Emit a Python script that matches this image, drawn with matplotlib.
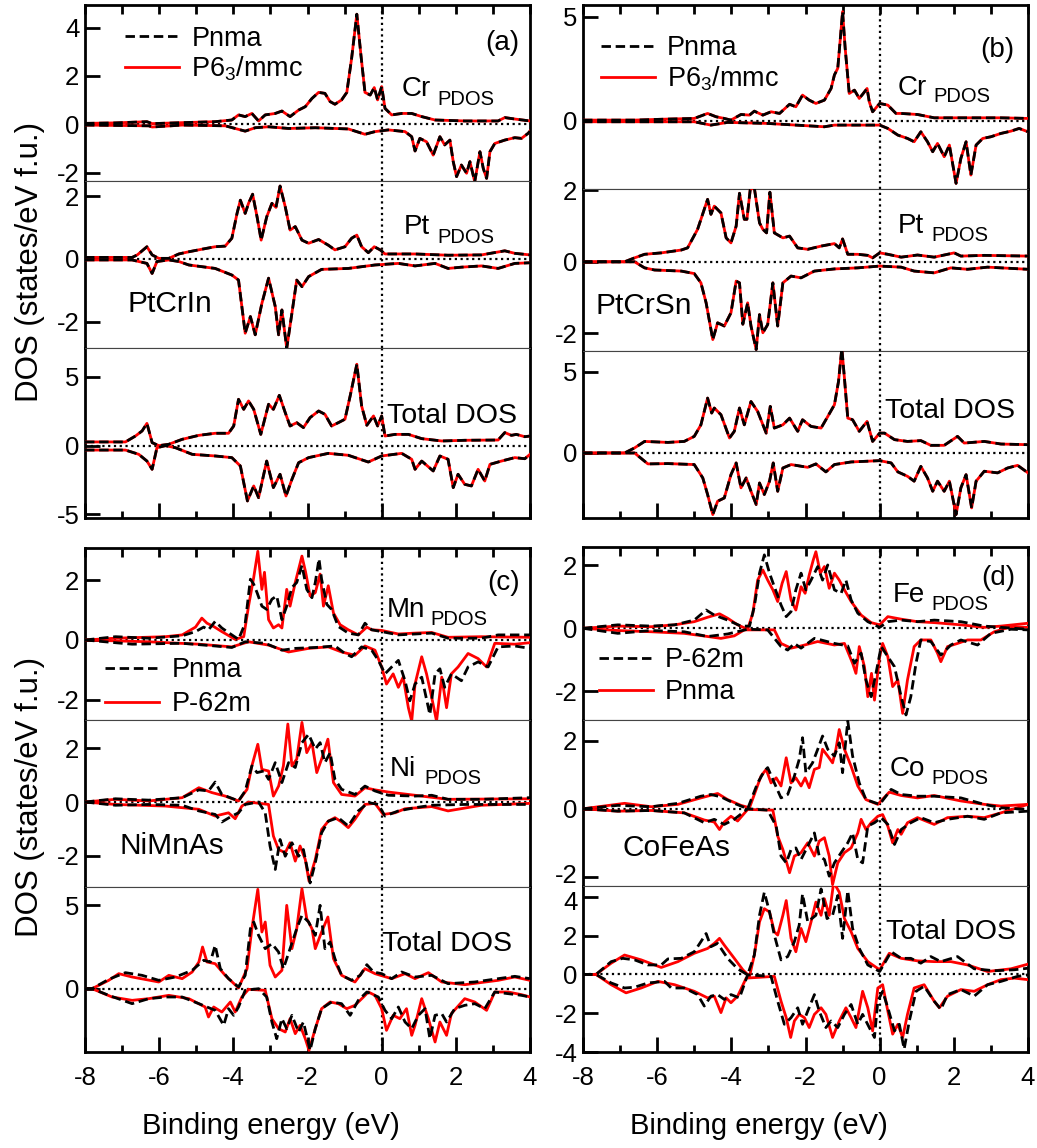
import numpy as np
import matplotlib
matplotlib.use("Agg")
import matplotlib.pyplot as plt
from matplotlib.lines import Line2D
from matplotlib.ticker import MultipleLocator
from matplotlib.transforms import ScaledTranslation

plt.rcParams["font.family"] = ["Liberation Sans", "DejaVu Sans"]
plt.rcParams["axes.unicode_minus"] = False
plt.rcParams["mathtext.fontset"] = "custom"
plt.rcParams["mathtext.rm"] = "Liberation Sans"
plt.rcParams["mathtext.it"] = "Liberation Sans"

# ---------------------------------------------------------------------------
# Spin-resolved DOS, (energy eV, states/eV f.u.).  Spin-down values negative.
# ---------------------------------------------------------------------------

# (a) PtCrIn : Pnma and P6_3/mmc curves coincide
A_CR_UP = [(-8.0, 0.04), (-7.18, 0.06), (-6.33, 0.11), (-6.19, 0.03), (-5.38, 0.07), (-4.49, 0.11),
           (-4.04, 0.18), (-3.86, 0.39), (-3.68, 0.32), (-3.50, 0.45), (-3.32, 0.14), (-3.14, 0.39),
           (-2.87, 0.45), (-2.69, 0.55), (-2.47, 0.32), (-2.24, 0.59), (-2.06, 0.73), (-1.88, 1.07),
           (-1.70, 1.32), (-1.53, 1.28), (-1.39, 0.94), (-1.26, 0.83), (-1.08, 1.01), (-0.94, 1.32),
           (-0.81, 2.73), (-0.67, 4.55), (-0.56, 2.87), (-0.45, 1.32), (-0.31, 1.21), (-0.20, 1.52),
           (-0.11, 1.01), (0.00, 1.56), (0.09, 0.66), (0.27, 0.39), (0.54, 0.45), (0.81, 0.45),
           (1.08, 0.32), (1.44, 0.18), (2.24, 0.14), (3.14, 0.14), (3.32, 0.28), (3.59, 0.22), (4.0, 0.14)]
A_CR_DN = [(-8.0, -0.03), (-6.28, -0.06), (-6.19, -0.11), (-5.38, -0.03), (-4.22, -0.06), (-3.68, -0.28),
           (-3.41, -0.14), (-3.05, -0.10), (-2.51, -0.17), (-1.79, -0.14), (-0.90, -0.19), (-0.45, -0.41),
           (-0.18, -0.30), (0.18, -0.23), (0.63, -0.30), (0.81, -0.51), (0.90, -1.10), (1.03, -0.58),
           (1.21, -0.72), (1.39, -1.27), (1.57, -0.51), (1.70, -0.85), (1.84, -0.65), (1.93, -1.54),
           (2.02, -2.16), (2.15, -1.68), (2.29, -2.02), (2.38, -1.54), (2.51, -2.37), (2.65, -1.13),
           (2.74, -1.82), (2.83, -2.23), (2.92, -1.13), (3.05, -0.79), (3.32, -0.65), (3.59, -0.55),
           (3.77, -0.58), (3.95, -0.37), (4.0, -0.28)]
A_PT_UP = [(-8.0, 0.05), (-6.73, 0.05), (-6.59, 0.13), (-6.33, 0.39), (-6.19, 0.13), (-6.01, 0.02),
           (-5.74, 0.02), (-5.47, 0.16), (-5.20, 0.23), (-4.85, 0.31), (-4.49, 0.39), (-4.22, 0.41),
           (-4.04, 0.66), (-3.90, 1.45), (-3.81, 1.87), (-3.68, 1.45), (-3.59, 1.77), (-3.48, 2.06),
           (-3.36, 1.34), (-3.25, 0.60), (-3.10, 1.34), (-2.96, 1.77), (-2.85, 1.64), (-2.74, 2.32),
           (-2.60, 1.66), (-2.47, 0.92), (-2.33, 1.03), (-2.15, 0.60), (-1.97, 0.50), (-1.70, 0.62),
           (-1.44, 0.44), (-1.26, 0.29), (-0.99, 0.39), (-0.81, 0.66), (-0.67, 0.76), (-0.54, 0.39),
           (-0.36, 0.20), (-0.20, 0.39), (-0.04, 0.29), (0.09, 0.16), (0.90, 0.16), (1.79, 0.12),
           (2.69, 0.13), (3.32, 0.26), (3.59, 0.18), (4.0, 0.13)]
A_PT_DN = [(-8.0, -0.03), (-6.73, -0.03), (-6.55, -0.08), (-6.33, -0.14), (-6.19, -0.46), (-6.06, -0.08),
           (-5.74, -0.03), (-5.47, -0.08), (-5.20, -0.19), (-4.49, -0.30), (-4.04, -0.51), (-3.86, -0.67),
           (-3.68, -2.36), (-3.54, -1.83), (-3.41, -2.41), (-3.23, -1.41), (-3.05, -0.61), (-2.87, -1.51),
           (-2.78, -2.41), (-2.69, -1.62), (-2.56, -2.84), (-2.42, -1.72), (-2.29, -0.67), (-2.15, -0.88),
           (-1.97, -0.56), (-1.62, -0.33), (-0.90, -0.30), (-0.18, -0.19), (0.45, -0.14), (0.90, -0.22),
           (1.44, -0.14), (1.79, -0.30), (2.15, -0.26), (2.69, -0.22), (3.14, -0.30), (3.59, -0.14),
           (4.0, -0.12)]
A_TOT_UP = [(-8.0, 0.27), (-6.91, 0.27), (-6.64, 0.70), (-6.46, 1.07), (-6.33, 1.62), (-6.19, 0.22),
            (-6.01, 0.0), (-5.74, 0.10), (-5.38, 0.46), (-4.93, 0.75), (-4.49, 0.90), (-4.13, 0.90),
            (-3.99, 1.43), (-3.86, 3.37), (-3.72, 2.64), (-3.59, 3.25), (-3.45, 2.64), (-3.26, 0.82),
            (-3.05, 3.01), (-2.92, 2.64), (-2.76, 3.66), (-2.60, 2.40), (-2.47, 1.43), (-2.29, 1.67),
            (-2.11, 1.31), (-1.93, 2.04), (-1.70, 2.52), (-1.53, 2.28), (-1.35, 1.43), (-1.17, 1.67),
            (-0.99, 1.92), (-0.85, 3.61), (-0.67, 5.92), (-0.54, 2.88), (-0.40, 1.48), (-0.22, 2.16),
            (-0.11, 1.43), (0.00, 2.16), (0.09, 0.70), (0.36, 0.82), (0.72, 0.82), (1.08, 0.51),
            (1.62, 0.34), (2.24, 0.39), (3.14, 0.41), (3.32, 0.95), (3.50, 0.75), (3.63, 0.82),
            (3.86, 0.65), (4.0, 0.70)]
A_TOT_DN = [(-8.0, -0.32), (-6.91, -0.32), (-6.55, -0.63), (-6.33, -1.12), (-6.19, -1.72), (-6.06, -0.15),
            (-5.83, 0.0), (-5.56, -0.15), (-5.11, -0.63), (-4.49, -0.75), (-4.04, -0.87), (-3.81, -1.48),
            (-3.62, -4.02), (-3.45, -2.93), (-3.32, -3.78), (-3.10, -1.12), (-2.92, -3.05), (-2.74, -2.08),
            (-2.58, -3.66), (-2.42, -2.45), (-2.24, -1.24), (-1.97, -0.87), (-1.44, -0.56), (-0.90, -0.70),
            (-0.36, -1.19), (0.00, -0.75), (0.54, -0.56), (0.81, -0.99), (0.90, -1.72), (1.08, -1.12),
            (1.39, -1.84), (1.57, -0.75), (1.79, -0.99), (1.93, -3.05), (2.06, -2.08), (2.24, -2.81),
            (2.42, -2.93), (2.60, -1.72), (2.78, -2.57), (2.92, -1.36), (3.23, -1.12), (3.59, -0.87),
            (3.86, -0.95), (4.0, -0.63)]

# (b) PtCrSn : Pnma and P6_3/mmc curves coincide
B_CR_UP = [(-8.0, 0.03), (-6.61, 0.03), (-5.71, 0.08), (-5.00, 0.11), (-4.64, 0.35), (-4.41, 0.19),
           (-4.19, 0.11), (-4.01, 0.03), (-3.74, 0.30), (-3.51, 0.27), (-3.38, 0.46), (-3.15, 0.27),
           (-2.93, 0.43), (-2.70, 0.35), (-2.43, 0.79), (-2.26, 0.67), (-2.08, 1.23), (-1.90, 0.99),
           (-1.72, 0.83), (-1.49, 0.99), (-1.31, 1.55), (-1.22, 2.20), (-1.13, 2.52), (-1.06, 3.96),
           (-1.00, 5.24), (-0.93, 3.48), (-0.82, 1.31), (-0.68, 1.47), (-0.55, 1.07), (-0.46, 1.27),
           (-0.34, 1.55), (-0.28, 0.91), (-0.19, 0.43), (0.00, 0.83), (0.22, 0.75), (0.44, 0.35),
           (0.58, 0.35), (1.02, 0.30), (1.47, 0.14), (2.37, 0.14), (3.27, 0.14), (4.0, 0.11)]
B_CR_DN = [(-8.0, -0.05), (-5.00, -0.05), (-4.55, -0.21), (-4.10, -0.08), (-3.02, -0.13), (-1.49, -0.29),
           (-1.22, -0.21), (0.00, -0.21), (0.22, -0.37), (0.49, -0.69), (0.75, -0.85), (0.93, -1.01),
           (1.11, -0.53), (1.29, -1.01), (1.43, -1.49), (1.56, -1.09), (1.74, -1.73), (1.88, -1.17),
           (2.06, -3.01), (2.19, -1.81), (2.33, -1.01), (2.46, -2.61), (2.60, -1.17), (2.78, -0.85),
           (3.00, -0.77), (3.27, -0.61), (3.54, -0.50), (3.76, -0.37), (4.0, -0.53)]
B_PT_UP = [(-8.0, 0.0), (-6.88, 0.0), (-6.61, 0.11), (-6.34, 0.21), (-5.89, 0.25), (-5.35, 0.33),
           (-5.18, 0.39), (-4.91, 0.91), (-4.64, 1.75), (-4.55, 1.33), (-4.46, 1.56), (-4.28, 1.37),
           (-4.14, 0.67), (-4.01, 0.53), (-3.87, 1.00), (-3.78, 1.92), (-3.65, 1.19), (-3.58, 1.19),
           (-3.49, 2.03), (-3.38, 2.07), (-3.24, 1.09), (-3.15, 0.91), (-3.05, 0.81), (-2.96, 1.95),
           (-2.84, 0.81), (-2.61, 0.67), (-2.43, 0.72), (-2.21, 0.39), (-1.94, 0.35), (-1.58, 0.44),
           (-1.22, 0.51), (-1.09, 0.39), (-1.00, 0.64), (-0.86, 0.21), (-0.59, 0.21), (-0.32, 0.18),
           (-0.19, 0.11), (0.00, 0.25), (0.22, 0.21), (0.58, 0.13), (1.02, 0.19), (1.47, 0.13),
           (2.01, 0.25), (2.19, 0.16), (2.82, 0.18), (4.0, 0.16)]
B_PT_DN = [(-8.0, 0.0), (-6.61, 0.0), (-6.34, -0.17), (-6.07, -0.23), (-5.35, -0.26), (-5.00, -0.33),
           (-4.82, -0.59), (-4.68, -1.15), (-4.50, -2.18), (-4.37, -1.71), (-4.19, -1.80), (-4.01, -1.43),
           (-3.87, -0.54), (-3.78, -0.59), (-3.69, -1.75), (-3.56, -1.15), (-3.47, -1.80), (-3.33, -2.46),
           (-3.24, -1.48), (-3.15, -1.99), (-3.02, -1.76), (-2.88, -0.59), (-2.75, -1.80), (-2.61, -0.59),
           (-2.39, -0.40), (-2.12, -0.45), (-1.76, -0.26), (-1.22, -0.20), (-0.59, -0.17), (0.00, -0.12),
           (0.58, -0.15), (0.93, -0.26), (1.47, -0.31), (1.92, -0.17), (2.37, -0.21), (2.91, -0.15),
           (4.0, -0.21)]
B_TOT_UP = [(-8.0, 0.0), (-6.88, 0.0), (-6.61, 0.31), (-6.34, 0.71), (-5.71, 0.65), (-5.27, 0.71),
            (-5.00, 1.02), (-4.82, 1.73), (-4.64, 3.37), (-4.53, 2.45), (-4.46, 2.76), (-4.28, 2.35),
            (-4.05, 0.92), (-3.92, 1.33), (-3.78, 2.76), (-3.65, 1.73), (-3.47, 3.16), (-3.29, 2.55),
            (-3.06, 1.22), (-2.95, 2.86), (-2.84, 1.53), (-2.61, 1.73), (-2.43, 2.14), (-2.21, 1.33),
            (-2.08, 2.04), (-1.85, 1.63), (-1.58, 1.53), (-1.40, 2.24), (-1.22, 2.96), (-1.11, 4.39),
            (-1.02, 6.43), (-0.95, 4.59), (-0.86, 2.14), (-0.73, 2.04), (-0.55, 1.33), (-0.34, 1.94),
            (-0.19, 0.71), (0.00, 1.22), (0.13, 1.22), (0.40, 0.82), (0.75, 0.71), (1.11, 0.76),
            (1.38, 0.47), (1.74, 0.47), (2.10, 1.02), (2.28, 0.61), (2.82, 0.71), (3.27, 0.55),
            (4.0, 0.51)]
B_TOT_DN = [(-8.0, 0.0), (-6.61, 0.0), (-6.25, -0.67), (-5.71, -0.65), (-5.00, -0.71), (-4.77, -1.53),
            (-4.64, -2.55), (-4.50, -3.78), (-4.37, -2.96), (-4.19, -2.76), (-4.01, -1.33), (-3.87, -0.61),
            (-3.74, -2.14), (-3.60, -1.53), (-3.47, -2.35), (-3.33, -3.16), (-3.24, -1.84), (-3.11, -2.55),
            (-2.97, -1.73), (-2.87, -0.61), (-2.75, -2.35), (-2.61, -0.92), (-2.39, -0.71), (-1.94, -0.88),
            (-1.72, -0.67), (-1.45, -1.16), (-1.22, -0.71), (-0.77, -0.55), (0.00, -0.47), (0.31, -0.61),
            (0.49, -1.16), (0.75, -1.43), (0.93, -1.73), (1.11, -0.82), (1.29, -1.53), (1.43, -2.35),
            (1.56, -1.73), (1.74, -2.35), (1.88, -1.73), (2.06, -3.78), (2.19, -2.14), (2.33, -1.33),
            (2.48, -3.37), (2.60, -1.73), (2.82, -1.12), (3.18, -1.22), (3.45, -0.92), (3.72, -0.76),
            (4.0, -1.22)]

# (c) NiMnAs : Pnma (dashed) and P-62m (solid)
C_MN_UP_PNMA = [(-8.0, 0.0), (-7.18, 0.11), (-6.28, 0.06), (-5.38, 0.14), (-5.02, 0.28), (-4.80, 0.43),
                (-4.67, 0.34), (-4.49, 0.62), (-4.31, 0.40), (-4.04, 0.17), (-3.86, 0.02), (-3.68, 0.56),
                (-3.54, 2.03), (-3.45, 1.86), (-3.36, 1.58), (-3.23, 1.13), (-3.10, 1.02), (-2.96, 1.36),
                (-2.83, 1.47), (-2.69, 0.68), (-2.56, 1.13), (-2.42, 1.75), (-2.29, 1.92), (-2.15, 2.49),
                (-2.02, 1.69), (-1.88, 1.41), (-1.79, 1.92), (-1.69, 2.71), (-1.62, 2.03), (-1.48, 1.19),
                (-1.35, 1.02), (-1.17, 0.45), (-0.90, 0.23), (-0.63, 0.17), (-0.45, 0.56), (-0.27, 0.34),
                (0.00, 0.28), (0.45, 0.17), (0.90, 0.20), (1.35, 0.23), (1.79, 0.06), (2.69, 0.06),
                (3.14, 0.17), (4.0, 0.17)]
C_MN_UP_P62M = [(-8.0, 0.0), (-7.18, 0.06), (-5.83, 0.11), (-5.38, 0.17), (-5.02, 0.43), (-4.85, 0.73),
                (-4.71, 0.56), (-4.53, 0.45), (-4.31, 0.28), (-3.95, 0.02), (-3.72, 0.11), (-3.59, 1.13),
                (-3.45, 2.09), (-3.34, 2.96), (-3.23, 1.69), (-3.16, 2.26), (-3.05, 0.68), (-2.92, 0.40),
                (-2.78, 0.51), (-2.69, 0.40), (-2.56, 1.69), (-2.47, 1.13), (-2.33, 1.92), (-2.15, 2.80),
                (-2.05, 2.26), (-1.93, 1.47), (-1.79, 1.58), (-1.66, 2.20), (-1.57, 1.13), (-1.44, 1.81),
                (-1.30, 0.90), (-1.12, 0.51), (-0.90, 0.34), (-0.63, 0.17), (-0.40, 0.43), (-0.27, 0.34),
                (0.00, 0.32), (0.45, 0.20), (0.90, 0.23), (1.35, 0.25), (1.79, 0.09), (2.69, 0.11),
                (4.0, 0.09)]
C_MN_DN_PNMA = [(-8.0, 0.0), (-6.73, -0.14), (-5.38, -0.11), (-4.49, -0.20), (-4.04, -0.25), (-3.68, -0.06),
                (-3.14, -0.11), (-2.69, -0.34), (-2.33, -0.28), (-1.79, -0.25), (-1.26, -0.20), (-0.99, -0.45),
                (-0.81, -0.56), (-0.54, -0.23), (-0.27, -0.34), (-0.09, -0.68), (0.09, -1.13), (0.27, -0.90),
                (0.45, -0.68), (0.63, -1.36), (0.76, -2.03), (0.90, -1.47), (1.08, -1.24), (1.30, -2.49),
                (1.44, -1.13), (1.57, -0.96), (1.70, -1.58), (1.88, -1.13), (2.15, -1.36), (2.33, -0.90),
                (2.60, -0.73), (2.87, -0.90), (3.14, -0.23), (3.59, -0.20), (4.0, -0.28)]
C_MN_DN_P62M = [(-8.0, 0.0), (-6.28, -0.06), (-4.93, -0.14), (-4.04, -0.23), (-3.59, -0.06), (-3.05, -0.17),
                (-2.51, -0.40), (-1.97, -0.28), (-1.44, -0.23), (-1.08, -0.40), (-0.72, -0.51), (-0.45, -0.20),
                (-0.18, -0.34), (0.00, -0.90), (0.13, -1.47), (0.31, -1.13), (0.45, -1.58), (0.58, -1.24),
                (0.72, -2.26), (0.81, -2.71), (0.90, -1.47), (1.08, -0.56), (1.21, -1.13), (1.35, -1.92),
                (1.48, -2.71), (1.62, -1.24), (1.75, -2.26), (1.88, -1.13), (2.06, -0.90), (2.33, -0.45),
                (2.60, -0.62), (2.83, -0.90), (3.05, -0.11), (3.59, -0.14), (4.0, -0.09)]
C_NI_UP_PNMA = [(-8.0, 0.0), (-7.18, 0.12), (-6.28, 0.07), (-5.38, 0.16), (-4.93, 0.45), (-4.67, 0.41),
                (-4.49, 0.74), (-4.31, 0.28), (-3.86, 0.04), (-3.68, 0.41), (-3.50, 1.34), (-3.36, 1.09),
                (-3.18, 1.15), (-3.05, 0.84), (-2.87, 1.46), (-2.69, 0.72), (-2.51, 1.46), (-2.33, 1.28),
                (-2.15, 2.20), (-1.97, 2.51), (-1.79, 1.96), (-1.66, 2.20), (-1.53, 1.46), (-1.39, 1.83),
                (-1.26, 0.84), (-1.08, 0.47), (-0.72, 0.28), (-0.45, 0.59), (-0.18, 0.41), (0.18, 0.25),
                (0.90, 0.22), (1.35, 0.25), (1.79, 0.10), (2.69, 0.10), (4.0, 0.16)]
C_NI_UP_P62M = [(-8.0, 0.0), (-7.18, 0.10), (-6.28, 0.04), (-5.38, 0.16), (-4.93, 0.53), (-4.58, 0.35),
                (-4.22, 0.22), (-3.86, 0.04), (-3.63, 0.47), (-3.50, 1.34), (-3.34, 2.14), (-3.23, 1.21),
                (-3.05, 1.15), (-2.92, 0.22), (-2.78, 0.59), (-2.65, 1.34), (-2.53, 2.89), (-2.42, 1.34),
                (-2.29, 1.59), (-2.15, 2.95), (-2.02, 1.83), (-1.88, 2.20), (-1.75, 1.09), (-1.62, 1.59),
                (-1.45, 2.33), (-1.30, 0.72), (-1.08, 0.28), (-0.72, 0.22), (-0.45, 0.53), (-0.18, 0.45),
                (0.18, 0.37), (0.90, 0.25), (1.79, 0.10), (4.0, 0.12)]
C_NI_DN_PNMA = [(-8.0, 0.0), (-7.18, -0.12), (-6.28, -0.09), (-5.38, -0.12), (-4.93, -0.33), (-4.49, -0.46),
                (-4.31, -0.74), (-4.04, -0.52), (-3.86, -0.40), (-3.68, -0.09), (-3.32, 0.0), (-3.14, -0.40),
                (-3.01, -1.63), (-2.87, -2.50), (-2.74, -1.39), (-2.60, -2.01), (-2.42, -1.51), (-2.24, -2.01),
                (-2.11, -1.76), (-1.93, -3.00), (-1.79, -2.25), (-1.62, -1.14), (-1.44, -0.71), (-1.17, -0.58),
                (-0.90, -0.89), (-0.63, -0.33), (-0.36, -0.02), (-0.09, -0.09), (0.09, -0.52), (0.45, -0.33),
                (0.90, -0.21), (1.35, -0.12), (2.24, -0.09), (4.0, -0.09)]
C_NI_DN_P62M = [(-8.0, 0.0), (-7.18, -0.09), (-5.83, -0.15), (-4.93, -0.27), (-4.49, -0.52), (-4.13, -0.40),
                (-3.95, -0.62), (-3.77, -0.15), (-3.59, 0.0), (-3.05, -0.09), (-2.92, -1.26), (-2.78, -1.76),
                (-2.60, -1.88), (-2.47, -1.51), (-2.33, -2.19), (-2.20, -1.63), (-2.06, -2.13), (-1.96, -2.93),
                (-1.79, -2.13), (-1.62, -1.02), (-1.44, -0.71), (-1.26, -0.58), (-1.08, -0.74), (-0.90, -0.95),
                (-0.72, -0.64), (-0.45, -0.09), (-0.18, -0.05), (0.04, -0.46), (0.36, -0.40), (0.63, -0.25),
                (1.35, -0.17), (1.79, -0.33), (2.69, -0.12), (4.0, -0.05)]
C_TOT_UP_PNMA = [(-8.0, 0.0), (-7.81, 0.0), (-7.36, 0.56), (-6.91, 0.96), (-6.46, 0.80), (-6.01, 0.50),
                 (-5.56, 0.70), (-5.11, 1.10), (-4.80, 1.70), (-4.62, 1.60), (-4.49, 2.60), (-4.35, 1.20),
                 (-4.13, 0.60), (-3.86, 0.10), (-3.68, 0.80), (-3.54, 3.60), (-3.45, 4.00), (-3.32, 3.20),
                 (-3.14, 2.40), (-2.96, 2.70), (-2.78, 2.20), (-2.65, 1.20), (-2.47, 2.40), (-2.29, 3.60),
                 (-2.15, 4.40), (-1.97, 4.00), (-1.79, 3.20), (-1.66, 5.00), (-1.53, 2.40), (-1.39, 2.80),
                 (-1.26, 1.80), (-1.08, 0.80), (-0.81, 0.50), (-0.58, 0.80), (-0.40, 1.44), (-0.22, 1.00),
                 (0.00, 0.90), (0.27, 0.60), (0.54, 1.00), (0.90, 0.70), (1.35, 0.80), (1.79, 0.30),
                 (2.51, 0.40), (3.14, 0.60), (3.59, 0.74), (4.0, 0.60)]
C_TOT_UP_P62M = [(-8.0, 0.0), (-7.81, 0.0), (-7.36, 0.50), (-7.09, 0.90), (-6.73, 0.70), (-6.01, 0.40),
                 (-5.74, 0.80), (-5.38, 0.60), (-5.11, 1.00), (-4.93, 1.60), (-4.83, 2.50), (-4.71, 1.60),
                 (-4.49, 1.50), (-4.22, 0.80), (-3.86, 0.04), (-3.63, 1.20), (-3.50, 3.60), (-3.34, 5.96),
                 (-3.23, 3.40), (-3.14, 4.00), (-3.01, 1.40), (-2.87, 0.70), (-2.69, 1.10), (-2.56, 5.00),
                 (-2.42, 2.40), (-2.29, 3.60), (-2.15, 6.00), (-2.02, 4.20), (-1.88, 3.60), (-1.79, 2.40),
                 (-1.62, 3.40), (-1.45, 4.30), (-1.30, 1.80), (-1.08, 0.80), (-0.72, 0.40), (-0.45, 1.20),
                 (-0.18, 0.90), (0.27, 0.60), (0.63, 0.90), (0.90, 0.60), (1.26, 0.96), (1.62, 0.40),
                 (2.24, 0.24), (3.14, 0.50), (3.59, 0.70), (4.0, 0.50)]
C_TOT_DN_PNMA = [(-8.0, 0.0), (-7.81, 0.0), (-7.36, -0.40), (-6.73, -0.90), (-6.28, -0.60), (-5.83, -0.50),
                 (-5.38, -0.50), (-4.93, -0.90), (-4.49, -1.30), (-4.26, -2.20), (-4.13, -1.20), (-3.99, -1.60),
                 (-3.86, -1.10), (-3.68, -0.10), (-3.32, 0.0), (-3.10, -0.50), (-2.96, -2.00), (-2.83, -3.00),
                 (-2.69, -1.80), (-2.56, -2.40), (-2.42, -1.60), (-2.24, -2.60), (-2.11, -2.00), (-1.93, -3.70),
                 (-1.79, -2.40), (-1.62, -1.20), (-1.35, -0.80), (-1.08, -0.90), (-0.85, -1.60), (-0.63, -0.70),
                 (-0.40, -0.20), (-0.09, -0.50), (0.09, -1.30), (0.27, -1.80), (0.45, -1.10), (0.63, -2.00),
                 (0.81, -2.40), (0.99, -1.60), (1.17, -1.20), (1.30, -3.00), (1.44, -1.60), (1.62, -1.50),
                 (1.75, -2.00), (1.97, -1.20), (2.24, -1.00), (2.51, -0.90), (2.78, -1.20), (3.05, -0.20),
                 (3.41, -0.30), (3.77, -0.40), (4.0, -0.50)]
C_TOT_DN_P62M = [(-8.0, 0.0), (-7.81, 0.0), (-7.27, -0.50), (-6.73, -0.70), (-6.28, -0.60), (-5.74, -0.40),
                 (-5.20, -0.60), (-4.76, -1.10), (-4.67, -1.70), (-4.53, -1.10), (-4.31, -1.40), (-4.08, -0.80),
                 (-3.95, -1.40), (-3.77, -0.50), (-3.59, -0.04), (-3.14, -0.10), (-2.96, -1.80), (-2.78, -2.40),
                 (-2.60, -2.60), (-2.47, -1.80), (-2.33, -2.70), (-2.20, -2.20), (-2.06, -3.00), (-1.96, -3.70),
                 (-1.79, -2.40), (-1.62, -1.20), (-1.39, -0.80), (-1.17, -0.90), (-0.94, -1.20), (-0.72, -1.00),
                 (-0.49, -0.50), (-0.36, -0.20), (-0.18, -0.40), (0.00, -1.20), (0.13, -2.50), (0.31, -1.60),
                 (0.49, -1.80), (0.67, -1.20), (0.81, -2.80), (0.90, -2.20), (1.08, -0.60), (1.26, -1.80),
                 (1.44, -3.20), (1.57, -2.00), (1.75, -2.80), (1.88, -1.50), (2.24, -0.60), (2.51, -0.80),
                 (2.83, -1.30), (3.05, -0.20), (3.41, -0.20), (3.77, -0.36), (4.0, -0.50)]

# (d) CoFeAs : P-62m (dashed) and Pnma (solid)
D_FE_UP_P62M = [(-8.0, 0.0), (-7.06, 0.11), (-6.16, 0.07), (-5.53, 0.11), (-5.00, 0.26), (-4.68, 0.58),
                (-4.46, 0.42), (-4.10, 0.26), (-3.74, 0.07), (-3.51, 0.07), (-3.38, 0.69), (-3.24, 1.75),
                (-3.11, 2.33), (-2.97, 1.75), (-2.84, 1.32), (-2.66, 0.74), (-2.52, 0.37), (-2.39, 0.53),
                (-2.26, 1.22), (-2.12, 1.75), (-1.99, 1.22), (-1.85, 1.53), (-1.67, 1.96), (-1.54, 1.53),
                (-1.40, 2.01), (-1.22, 1.22), (-1.04, 1.11), (-0.91, 1.53), (-0.77, 0.90), (-0.59, 0.48),
                (-0.32, 0.21), (0.00, 0.03), (0.22, 0.21), (0.58, 0.26), (1.02, 0.21), (1.47, 0.26),
                (2.19, 0.21), (2.82, 0.07), (3.27, 0.03), (4.0, -0.03)]
D_FE_UP_PNMA = [(-8.0, 0.0), (-7.06, 0.07), (-6.16, 0.05), (-5.53, 0.11), (-5.00, 0.21), (-4.64, 0.35),
                (-4.32, 0.46), (-4.10, 0.32), (-3.83, 0.11), (-3.56, -0.03), (-3.42, 0.48), (-3.29, 1.53),
                (-3.15, 1.85), (-3.02, 1.53), (-2.88, 1.22), (-2.75, 0.85), (-2.63, 1.43), (-2.52, 1.80),
                (-2.39, 0.90), (-2.26, 0.58), (-2.12, 1.32), (-2.01, 1.11), (-1.90, 1.69), (-1.79, 2.17),
                (-1.72, 2.43), (-1.60, 1.75), (-1.49, 1.96), (-1.36, 1.27), (-1.22, 1.75), (-1.09, 1.53),
                (-0.95, 1.22), (-0.77, 0.85), (-0.50, 0.42), (-0.23, 0.18), (0.00, 0.11), (0.22, 0.37),
                (0.58, 0.29), (1.02, 0.21), (1.47, 0.18), (2.19, 0.11), (2.82, 0.03), (3.27, 0.07), (4.0, 0.16)]
D_FE_DN_P62M = [(-8.0, 0.0), (-7.06, -0.16), (-6.16, -0.07), (-5.27, -0.11), (-4.64, -0.26), (-4.10, -0.18),
                (-3.56, -0.03), (-3.02, -0.05), (-2.66, -0.58), (-2.48, -0.69), (-2.30, -0.48), (-2.12, -0.63),
                (-1.76, -0.32), (-1.58, -0.37), (-1.22, -0.48), (-0.86, -0.56), (-0.68, -1.11), (-0.50, -0.79),
                (-0.37, -1.64), (-0.23, -2.17), (-0.10, -1.43), (0.04, -0.58), (0.22, -0.90), (0.40, -1.22),
                (0.58, -2.17), (0.71, -2.75), (0.84, -2.17), (0.98, -1.11), (1.11, -0.37), (1.38, -0.42),
                (1.65, -0.85), (1.92, -0.53), (2.19, -0.37), (2.64, -0.53), (3.00, -0.16), (3.54, -0.03),
                (4.0, -0.05)]
D_FE_DN_PNMA = [(-8.0, 0.0), (-7.06, -0.07), (-6.16, -0.11), (-5.27, -0.16), (-4.64, -0.26), (-4.28, -0.32),
                (-3.92, -0.24), (-3.65, -0.05), (-2.84, -0.05), (-2.66, -0.48), (-2.39, -0.63), (-2.12, -0.56),
                (-1.67, -0.42), (-1.22, -0.53), (-0.95, -0.48), (-0.73, -1.11), (-0.64, -1.43), (-0.55, -0.58),
                (-0.41, -1.22), (-0.32, -2.17), (-0.22, -1.43), (-0.14, -2.28), (0.00, -0.90), (0.08, -0.48),
                (0.22, -0.90), (0.35, -1.85), (0.49, -1.64), (0.62, -2.70), (0.75, -1.64), (0.93, -0.58),
                (1.11, -0.37), (1.38, -0.37), (1.56, -0.79), (1.65, -1.06), (1.83, -0.58), (2.10, -0.48),
                (2.37, -0.37), (2.73, -0.37), (3.09, -0.11), (3.54, 0.05), (4.0, 0.03)]
D_CO_UP_P62M = [(-8.0, 0.0), (-7.06, 0.10), (-6.16, 0.06), (-5.44, 0.16), (-4.82, 0.37), (-4.55, 0.42),
                (-4.28, 0.35), (-3.92, 0.16), (-3.56, 0.0), (-3.29, 0.76), (-3.11, 1.11), (-3.02, 1.21),
                (-2.84, 0.76), (-2.66, 0.32), (-2.48, 0.42), (-2.30, 0.96), (-2.17, 1.45), (-2.08, 2.09),
                (-1.99, 1.06), (-1.81, 1.35), (-1.67, 1.75), (-1.54, 2.14), (-1.40, 1.75), (-1.22, 1.55),
                (-1.09, 1.94), (-1.00, 1.06), (-0.86, 2.58), (-0.73, 1.55), (-0.55, 0.76), (-0.37, 0.27),
                (0.00, 0.13), (0.31, 0.57), (0.58, 0.42), (1.02, 0.37), (1.47, 0.37), (2.19, 0.32),
                (2.82, 0.13), (3.27, 0.03), (4.0, -0.02)]
D_CO_UP_PNMA = [(-8.0, 0.0), (-6.88, 0.16), (-6.16, 0.06), (-5.44, 0.13), (-4.82, 0.32), (-4.37, 0.45),
                (-4.10, 0.27), (-3.74, 0.10), (-3.51, 0.03), (-3.33, 0.57), (-3.20, 0.96), (-3.06, 1.16),
                (-2.93, 0.76), (-2.79, 0.91), (-2.66, 0.67), (-2.52, 1.50), (-2.39, 0.76), (-2.26, 0.91),
                (-2.12, 0.67), (-2.01, 0.91), (-1.90, 0.62), (-1.76, 1.16), (-1.63, 1.21), (-1.54, 1.75),
                (-1.40, 1.55), (-1.27, 1.35), (-1.18, 1.75), (-1.09, 2.33), (-0.95, 1.75), (-0.77, 1.25),
                (-0.59, 0.67), (-0.37, 0.27), (-0.05, 0.13), (0.26, 0.49), (0.58, 0.39), (1.02, 0.32),
                (1.47, 0.39), (2.19, 0.23), (2.82, 0.13), (3.27, 0.08), (4.0, 0.13)]
D_CO_DN_P62M = [(-8.0, 0.0), (-7.06, -0.07), (-6.16, -0.05), (-5.27, -0.12), (-4.73, -0.41), (-4.46, -0.31),
                (-4.19, -0.46), (-3.92, -0.31), (-3.56, 0.0), (-3.02, -0.04), (-2.79, -0.51), (-2.66, -1.39),
                (-2.52, -1.59), (-2.39, -1.20), (-2.26, -1.15), (-2.12, -1.49), (-1.94, -1.10), (-1.76, -0.71),
                (-1.63, -1.39), (-1.49, -1.49), (-1.36, -1.98), (-1.22, -1.59), (-1.04, -1.29), (-0.86, -1.00),
                (-0.73, -0.71), (-0.59, -1.49), (-0.46, -1.59), (-0.32, -0.51), (-0.14, -0.41), (0.04, -0.26),
                (0.22, -0.46), (0.40, -1.05), (0.58, -0.61), (0.84, -0.41), (1.11, -0.26), (1.47, -0.41),
                (1.83, -0.31), (2.37, -0.22), (2.82, -0.31), (3.27, -0.12), (4.0, -0.07)]
D_CO_DN_PNMA = [(-8.0, 0.0), (-7.06, -0.07), (-6.16, -0.05), (-5.27, -0.12), (-4.73, -0.33), (-4.46, -0.39),
                (-4.32, -0.61), (-4.19, -0.39), (-4.01, -0.22), (-3.83, -0.36), (-3.56, -0.02), (-2.88, -0.04),
                (-2.75, -0.80), (-2.61, -1.20), (-2.43, -1.88), (-2.30, -1.39), (-2.12, -1.29), (-1.94, -1.00),
                (-1.76, -1.39), (-1.63, -0.95), (-1.49, -0.85), (-1.36, -1.39), (-1.27, -2.23), (-1.13, -1.59),
                (-0.95, -1.29), (-0.77, -1.15), (-0.59, -0.71), (-0.50, -0.31), (-0.37, -0.61), (-0.23, -0.41),
                (-0.05, -0.22), (0.08, -0.17), (0.22, -0.51), (0.35, -1.00), (0.49, -0.61), (0.58, -0.75),
                (0.75, -0.41), (1.02, -0.26), (1.47, -0.46), (1.83, -0.26), (2.37, -0.22), (2.82, -0.26),
                (3.27, -0.12), (4.0, 0.13)]
D_TOT_UP_P62M = [(-8.0, 0.0), (-7.65, 0.0), (-7.24, 0.66), (-6.93, 0.83), (-6.61, 0.75), (-6.25, 0.49),
                 (-5.89, 0.49), (-5.71, 0.80), (-5.35, 0.83), (-5.00, 1.17), (-4.82, 1.69), (-4.68, 2.11),
                 (-4.55, 1.43), (-4.37, 1.60), (-4.10, 0.83), (-3.83, 0.29), (-3.56, -0.02), (-3.38, 1.00),
                 (-3.24, 3.05), (-3.11, 4.24), (-2.97, 3.22), (-2.84, 2.03), (-2.66, 0.75), (-2.48, 0.92),
                 (-2.30, 1.69), (-2.17, 2.54), (-2.08, 4.15), (-1.94, 2.71), (-1.72, 3.05), (-1.58, 4.41),
                 (-1.42, 2.88), (-1.27, 3.05), (-1.13, 4.07), (-1.00, 1.86), (-0.86, 4.32), (-0.73, 2.37),
                 (-0.55, 1.34), (-0.32, 0.49), (0.00, 0.15), (0.31, 1.17), (0.58, 0.83), (0.84, 0.83),
                 (1.11, 0.58), (1.38, 0.92), (1.65, 0.66), (2.10, 0.92), (2.55, 0.29), (3.09, 0.19),
                 (3.63, 0.24), (4.0, 0.32)]
D_TOT_UP_PNMA = [(-8.0, 0.0), (-7.65, 0.0), (-7.24, 0.58), (-6.88, 1.00), (-6.43, 0.75), (-5.89, 0.36),
                 (-5.44, 0.66), (-5.00, 1.09), (-4.64, 1.34), (-4.46, 1.60), (-4.32, 1.86), (-4.19, 1.51),
                 (-3.92, 0.83), (-3.69, 0.24), (-3.51, -0.10), (-3.38, 1.00), (-3.24, 2.71), (-3.11, 3.39),
                 (-2.97, 3.22), (-2.84, 2.20), (-2.75, 2.03), (-2.61, 3.05), (-2.52, 3.81), (-2.39, 1.86),
                 (-2.26, 1.17), (-2.12, 2.37), (-1.99, 1.69), (-1.85, 2.71), (-1.72, 3.73), (-1.58, 3.05),
                 (-1.49, 3.90), (-1.36, 3.05), (-1.24, 4.75), (-1.09, 4.24), (-0.95, 2.88), (-0.77, 2.20),
                 (-0.59, 1.34), (-0.32, 0.66), (0.00, 0.24), (0.26, 1.09), (0.58, 0.83), (1.02, 0.70),
                 (1.47, 0.66), (1.92, 0.66), (2.37, 0.49), (2.91, 0.15), (3.54, 0.29), (4.0, 0.53)]
D_TOT_DN_P62M = [(-8.0, 0.0), (-7.65, 0.0), (-7.24, -0.44), (-6.88, -0.70), (-6.61, -0.66), (-6.25, -0.44),
                 (-5.80, -0.36), (-5.62, -0.70), (-5.27, -0.70), (-4.91, -1.04), (-4.73, -1.63), (-4.55, -1.12),
                 (-4.37, -1.04), (-4.19, -1.29), (-4.01, -1.04), (-3.78, -1.21), (-3.56, -0.02), (-2.93, -0.10),
                 (-2.75, -1.38), (-2.57, -2.57), (-2.39, -2.23), (-2.21, -1.72), (-2.08, -2.57), (-1.94, -1.89),
                 (-1.76, -1.04), (-1.63, -1.89), (-1.45, -2.74), (-1.31, -2.40), (-1.13, -2.74), (-0.95, -2.06),
                 (-0.77, -1.55), (-0.59, -2.57), (-0.46, -2.06), (-0.28, -2.74), (-0.14, -3.25), (-0.05, -1.38),
                 (0.08, -0.87), (0.22, -1.72), (0.40, -2.91), (0.53, -2.57), (0.66, -3.85), (0.80, -2.40),
                 (0.98, -0.87), (1.20, -0.61), (1.47, -1.38), (1.65, -1.80), (1.83, -1.04), (2.19, -0.78),
                 (2.55, -1.12), (2.91, -0.53), (3.27, -0.36), (3.72, -0.10), (4.0, -0.02)]
D_TOT_DN_PNMA = [(-8.0, 0.0), (-7.65, 0.0), (-7.24, -0.53), (-6.84, -0.95), (-6.43, -0.70), (-5.98, -0.36),
                 (-5.53, -0.53), (-5.00, -0.87), (-4.64, -1.21), (-4.46, -1.12), (-4.28, -1.97), (-4.14, -1.21),
                 (-4.01, -1.46), (-3.83, -1.12), (-3.60, -0.19), (-2.84, -0.10), (-2.66, -1.38), (-2.52, -2.23),
                 (-2.40, -3.25), (-2.30, -2.40), (-2.17, -2.06), (-2.03, -2.23), (-1.90, -2.74), (-1.76, -2.06),
                 (-1.58, -1.72), (-1.45, -2.06), (-1.27, -3.25), (-1.09, -2.40), (-0.91, -1.72), (-0.77, -2.23),
                 (-0.64, -2.74), (-0.46, -0.87), (-0.32, -1.72), (-0.19, -2.91), (-0.05, -0.70), (0.08, -0.53),
                 (0.22, -1.89), (0.35, -3.08), (0.49, -2.57), (0.62, -3.25), (0.75, -2.06), (0.93, -0.70),
                 (1.20, -0.53), (1.47, -1.38), (1.61, -1.72), (1.83, -1.12), (2.19, -0.78), (2.55, -0.87),
                 (2.91, -0.53), (3.27, -0.27), (3.63, -0.19), (4.0, -0.27)]

# Axis tick values
X_TICKS = [-8, -6, -4, -2, 0, 2, 4]
YTICKS = {
    "a": ([-2, 0, 2, 4], [-2, 0, 2], [-5, 0, 5]),
    "b": ([0, 5], [-2, 0, 2], [0, 5]),
    "c": ([-2, 0, 2], [-2, 0, 2], [0, 5]),
    "d": ([-2, 0, 2], [-2, 0, 2], [-4, -2, 0, 2, 4]),
}
YLIMS = {
    "a": ((-2.34, 4.93), (-2.83, 2.48), (-5.26, 7.10)),
    "b": ((-3.28, 5.56), (-2.50, 2.04), (-3.99, 6.26)),
    "c": ((-2.67, 3.07), (-3.15, 3.04), (-3.80, 6.10)),
    "d": ((-2.91, 2.58), (-2.27, 2.61), (-3.95, 4.56)),
}

# ---------------------------------------------------------------------------
W, H = 1037, 1148
fig = plt.figure(figsize=(W / 100, H / 100), dpi=100)

RED = "#ff0000"
LW = 2.0
DASH = (3.4, 1.7)
THICK = 2.0
THIN = 0.8
TICK_FS = 18.5

# panel frames in pixels: x-range and horizontal boundaries of the three strips
FRAMES = {
    "a": ((85, 530), (5, 181, 348, 518)),
    "b": ((583, 1028), (5, 189, 351, 518)),
    "c": ((85, 530), (548, 720, 887, 1052)),
    "d": ((583, 1028), (547, 720, 886, 1052)),
}


def make_panel(key, bottom_labels):
    (x0, x1), ys = FRAMES[key]
    axes = []
    for i in range(3):
        top, bot = ys[i], ys[i + 1]
        ax = fig.add_axes([x0 / W, 1 - bot / H, (x1 - x0) / W, (bot - top) / H])
        ax.set_xlim(-8, 4)
        ax.set_ylim(*YLIMS[key][i])
        ax.set_yticks(YTICKS[key][i])
        ax.xaxis.set_major_locator(MultipleLocator(2))
        ax.xaxis.set_minor_locator(MultipleLocator(1))
        ax.tick_params(axis="x", which="both", bottom=False, top=False,
                       labelbottom=False, labeltop=False)
        ax.tick_params(axis="y", which="major", left=True, right=False, direction="in",
                       length=10.5, width=2.0, labelsize=TICK_FS, pad=4)
        for s in ax.spines.values():
            s.set_linewidth(THICK)
            s.set_color("black")
        if i > 0:
            ax.spines["top"].set_linewidth(THIN)
            ax.spines["top"].set_color("#444444")
        if i < 2:
            ax.spines["bottom"].set_linewidth(THIN)
            ax.spines["bottom"].set_color("#444444")
        if i == 0:
            ax.tick_params(axis="x", which="both", top=True, direction="in",
                           length=6.5, width=2.0)
        if i == 2:
            ax.tick_params(axis="x", which="major", bottom=True, direction="in",
                           length=11, width=2.0)
            ax.tick_params(axis="x", which="minor", bottom=True, direction="in",
                           length=5, width=2.0)
            ax.set_xticks(X_TICKS)
            if bottom_labels:
                ax.tick_params(axis="x", which="major", labelbottom=True,
                               labelsize=TICK_FS, pad=10)
        ax.axhline(0, color="black", lw=1.6, ls=(0, (1, 1.6)), zorder=1)
        ax.axvline(0, color="black", lw=1.6, ls=(0, (1, 1.6)), zorder=1)
        axes.append(ax)
    return axes


def draw(ax, pairs, style):
    e, v = np.array(pairs).T
    if style == "solid":
        ax.plot(e, v, color=RED, lw=LW, zorder=3, solid_joinstyle="round")
    else:
        ax.plot(e, v, color="black", lw=LW, dashes=DASH, zorder=4)


# (a) and (b): both structures drawn from the same curve
panel_axes = {}
for key, curves in (("a", ((A_CR_UP, A_CR_DN), (A_PT_UP, A_PT_DN), (A_TOT_UP, A_TOT_DN))),
                    ("b", ((B_CR_UP, B_CR_DN), (B_PT_UP, B_PT_DN), (B_TOT_UP, B_TOT_DN)))):
    axes = make_panel(key, bottom_labels=False)
    for ax, (up, dn) in zip(axes, curves):
        for c in (up, dn):
            draw(ax, c, "solid")
            draw(ax, c, "dashed")
    panel_axes[key] = axes

# (c) NiMnAs
axes_c = make_panel("c", bottom_labels=True)
for ax, (up_d, dn_d, up_s, dn_s) in zip(axes_c, (
        (C_MN_UP_PNMA, C_MN_DN_PNMA, C_MN_UP_P62M, C_MN_DN_P62M),
        (C_NI_UP_PNMA, C_NI_DN_PNMA, C_NI_UP_P62M, C_NI_DN_P62M),
        (C_TOT_UP_PNMA, C_TOT_DN_PNMA, C_TOT_UP_P62M, C_TOT_DN_P62M))):
    draw(ax, up_s, "solid"); draw(ax, dn_s, "solid")
    draw(ax, up_d, "dashed"); draw(ax, dn_d, "dashed")

# (d) CoFeAs
axes_d = make_panel("d", bottom_labels=True)
for ax, (up_d, dn_d, up_s, dn_s) in zip(axes_d, (
        (D_FE_UP_P62M, D_FE_DN_P62M, D_FE_UP_PNMA, D_FE_DN_PNMA),
        (D_CO_UP_P62M, D_CO_DN_P62M, D_CO_UP_PNMA, D_CO_DN_PNMA),
        (D_TOT_UP_P62M, D_TOT_DN_P62M, D_TOT_UP_PNMA, D_TOT_DN_PNMA))):
    draw(ax, up_s, "solid"); draw(ax, dn_s, "solid")
    draw(ax, up_d, "dashed"); draw(ax, dn_d, "dashed")

# the Co "-2" and total "4" labels sit at the strip boundary: nudge them apart
def nudge_label(ax, index, dy_pt):
    tick = ax.yaxis.get_major_ticks()[index]
    tick.label1.set_transform(tick.label1.get_transform()
                              + ScaledTranslation(0, dy_pt / 72, fig.dpi_scale_trans))


nudge_label(axes_d[1], 0, 2.5)
nudge_label(axes_d[2], -1, -2.5)


# ---------------------------------------------------------------------------
# Legends
def legend(ax, dashed_label, solid_label, anchor, spacing):
    h_d = Line2D([], [], color="black", lw=LW, dashes=DASH)
    h_s = Line2D([], [], color=RED, lw=LW)
    ax.legend([h_d, h_s], [dashed_label, solid_label], loc="upper left",
              bbox_to_anchor=anchor, frameon=False, fontsize=19.5, handlelength=2.0,
              handletextpad=0.45, borderpad=0, borderaxespad=0, labelspacing=spacing)


legend(panel_axes["a"][0], "Pnma", r"P6$_3$/mmc", (0.09, 0.883), 0.11)
legend(panel_axes["b"][0], "Pnma", r"P6$_3$/mmc", (0.04, 0.837), 0.14)
legend(axes_c[0], "Pnma", "P-62m", (0.045, 0.365), 0.29)
legend(axes_d[0], "P-62m", "Pnma", (0.035, 0.422), 0.23)


# ---------------------------------------------------------------------------
# Annotations (pixel positions on the canvas)
def ftext(x, y, s, size, **kw):
    fig.text(x / W, 1 - y / H, s, fontsize=size, ha=kw.pop("ha", "left"),
             va=kw.pop("va", "baseline"), **kw)


# (a)
ftext(485, 50, "(a)", 20)
ftext(402, 96, "Cr", 20); ftext(437, 105, "PDOS", 14.5)
ftext(404, 234, "Pt", 20); ftext(437, 243, "PDOS", 14.5)
ftext(127, 312, "PtCrIn", 21.5)
ftext(387, 423, "Total DOS", 20.5)
# (b)
ftext(980, 57, "(b)", 20)
ftext(898, 95, "Cr", 20); ftext(933, 102, "PDOS", 14.5)
ftext(898, 233, "Pt", 20); ftext(931, 241, "PDOS", 14.5)
ftext(595, 314, "PtCrSn", 21.5)
ftext(885, 418, "Total DOS", 20.5)
# (c)
ftext(487, 590, "(c)", 20)
ftext(387, 617, "Mn", 20); ftext(430, 625, "PDOS", 14.5)
ftext(390, 776, "Ni", 20); ftext(424, 784, "PDOS", 14.5)
ftext(119, 854, "NiMnAs", 21.5)
ftext(382, 951, "Total DOS", 20.5)
# (d)
ftext(981, 585, "(d)", 20)
ftext(893, 602, "Fe", 20); ftext(931, 610, "PDOS", 14.5)
ftext(890, 776, "Co", 20); ftext(931, 784, "PDOS", 14.5)
ftext(623, 856, "CoFeAs", 21.5)
ftext(886, 939, "Total DOS", 20.5)

# axis titles
ftext(30, 262, "DOS (states/eV f.u.)", 22.5, ha="center", va="center", rotation=90)
ftext(30, 797, "DOS (states/eV f.u.)", 22.5, ha="center", va="center", rotation=90)
ftext(271, 1126, "Binding energy (eV)", 21, ha="center", va="center")
ftext(759, 1126, "Binding energy (eV)", 21, ha="center", va="center")

fig.savefig("out.png", dpi=100)
